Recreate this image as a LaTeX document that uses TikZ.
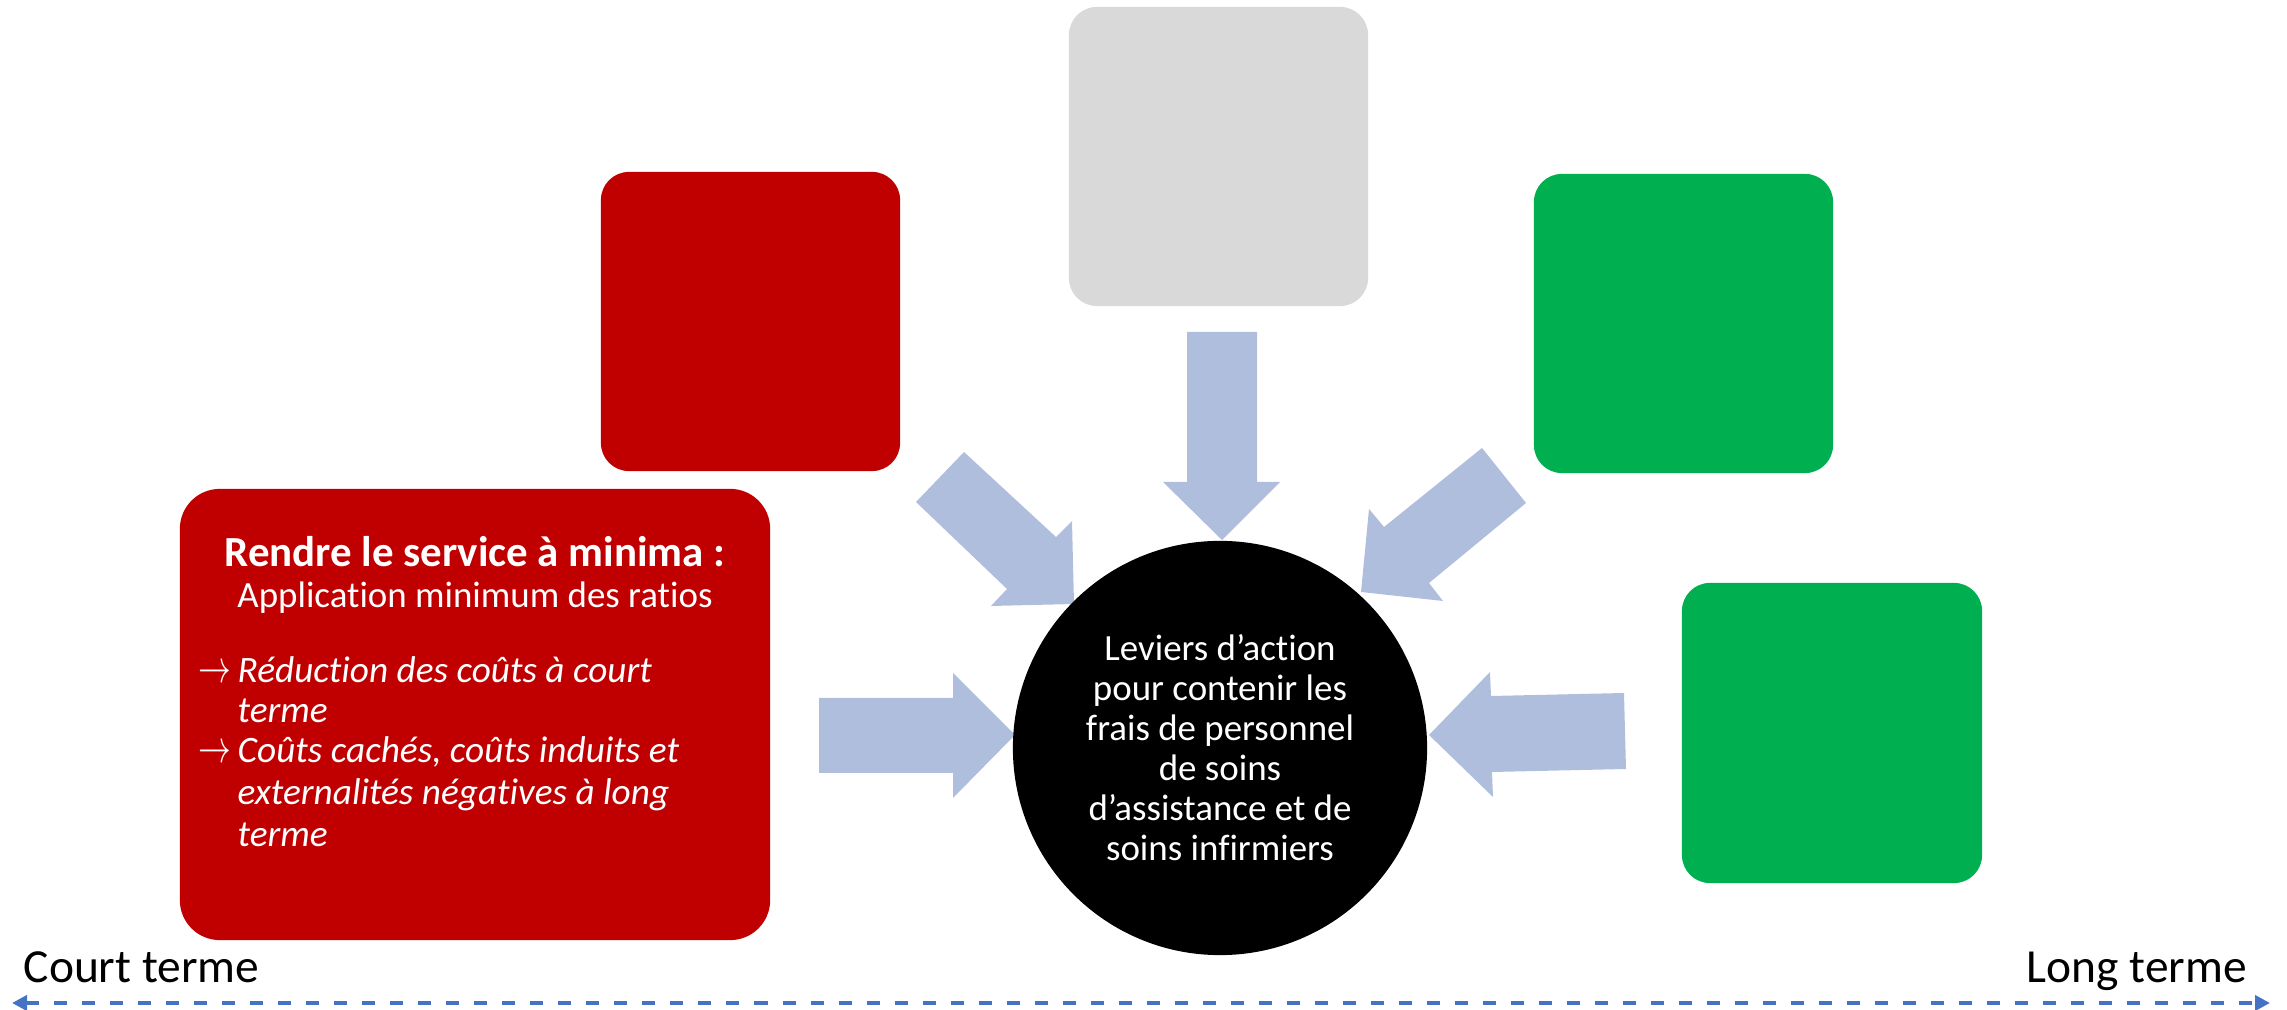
\documentclass[tikz,border=0pt]{standalone}
\usepackage{fontspec}
\setmainfont{Carlito}[Ligatures=NoCommon]
\usetikzlibrary{arrows.meta}
\definecolor{boxred}{RGB}{192,0,0}
\definecolor{boxgray}{RGB}{217,217,217}
\definecolor{boxgreen}{RGB}{0,176,80}
\definecolor{arrowblue}{RGB}{176,190,222}
\definecolor{lineblue}{RGB}{68,114,196}
\begin{document}
\begin{tikzpicture}[x=0.01cm,y=-0.01cm,
  tile/.style={rounded corners=0.28cm, inner sep=0pt, minimum width=2.99cm, minimum height=2.99cm},
  bigtile/.style={rounded corners=0.40cm, inner sep=0pt, minimum width=5.90cm, minimum height=4.51cm, fill=boxred},
  hub/.style={circle, fill=black, inner sep=0pt, minimum size=4.14cm, text=white, align=center,
    font=\fontsize{10.5}{11.38}\selectfont},
  boxtxt/.style={inner sep=0pt, text=white, font=\fontsize{10.5}{11.6}\selectfont},
  bullet/.style={boxtxt, anchor=base west, font=\fontsize{10.6}{11.6}\selectfont\itshape},
  blockarrow/.style={fill=arrowblue, draw=none},
  timeline/.style={draw=lineblue, line width=1.4pt, dash pattern=on 0.13cm off 0.15cm,
    {Triangle[length=0.15cm,width=0.15cm]}-{Triangle[length=0.15cm,width=0.15cm]}},
  endlabel/.style={inner sep=0pt, anchor=base west, font=\fontsize{13.5}{16}\selectfont}
]
\useasboundingbox (0,0) rectangle (2287,1010);

% tiles
\node[tile, fill=boxred]   (redtile)   at (750.5,321.5) {};
\node[tile, fill=boxgray]  (graytile)  at (1218.5,156.5) {};
\node[tile, fill=boxgreen] (greentileA) at (1683.5,323.5) {};
\node[tile, fill=boxgreen, minimum width=3.00cm, minimum height=3.00cm] (greentileB) at (1832,733) {};
\node[bigtile] (bigred) at (475,714.5) {};

% big red box text
\node[boxtxt, anchor=base, font=\fontsize{12.2}{14}\selectfont\bfseries] (h1) at (475,567) {Rendre le service à minima :};
\node[boxtxt, anchor=base] (h2) at (475,608) {Application minimum des ratios};
\node[boxtxt, anchor=base west] (arr1) at (198,683) {\scalebox{0.85}[1.2]{$\rightarrow$}};
\node[bullet] (b1)  at (237,683) {Réduction des coûts à court};
\node[bullet] (b1b) at (237,723) {terme};
\node[boxtxt, anchor=base west] (arr2) at (198,763) {\scalebox{0.85}[1.2]{$\rightarrow$}};
\node[bullet] (b2)  at (237,763) {Coûts cachés, coûts induits et};
\node[bullet] (b2b) at (237,805) {externalités négatives à long};
\node[bullet] (b2c) at (237,847) {terme};

% block arrows
\fill[blockarrow] (819,698) -- (953,698) -- (953,673) -- (1015,735) -- (953,798) -- (953,773) -- (819,773) -- cycle;
\fill[blockarrow] (916,502) -- (964,452) -- (1056,537) -- (1072,521) -- (1074,604) -- (991,606) -- (1007,589) -- cycle;
\fill[blockarrow] (1187,332) -- (1257,332) -- (1257,482) -- (1280,482) -- (1222,540) -- (1163,482) -- (1187,482) -- cycle;
\fill[blockarrow] (1482,448) -- (1526,503) -- (1429,583) -- (1443,601) -- (1361,592) -- (1369,509) -- (1384,527) -- cycle;
\fill[blockarrow] (1624,693) -- (1626,769) -- (1492,772) -- (1493,797) -- (1429,735) -- (1490,672) -- (1491,696) -- cycle;

% hub
\node[hub] (hub) at (1220,748) {Leviers d’action\\pour contenir les\\frais de personnel\\de soins\\d’assistance et de\\soins infirmiers};

% timeline
\coordinate (tl) at (12,1003);
\coordinate (tr) at (2270,1003);
\draw[timeline] (tl) -- (tr);
\node[endlabel] (court) at (23,982) {Court terme};
\node[endlabel] (long) at (2026,982) {Long terme};
\end{tikzpicture}
\end{document}
